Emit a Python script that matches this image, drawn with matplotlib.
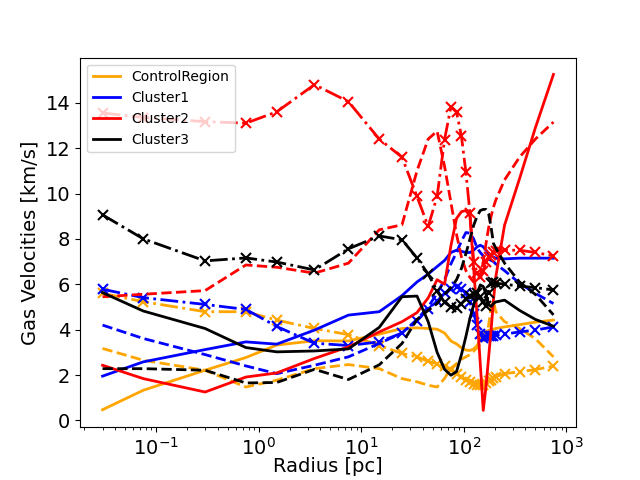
import numpy as np
import matplotlib.pyplot as plt

# radial bins [pc]
radius = [0.03, 0.075, 0.3, 0.75, 1.5, 3.5, 7.5, 15, 25,
          35, 45, 55, 65, 75, 85, 95, 105, 115, 125, 135, 145,
          155, 165, 175, 185, 195, 205, 250, 350, 500, 750]

# ControlRegion
ctrl_solid = [0.47, 1.33, 2.21, 2.77, 3.32, 3.51, 3.5, 3.8, 4.05,
              4.08, 4.05, 4.02, 3.85, 3.5, 3.37, 3.2, 3.1, 3.08, 3.15, 3.3, 3.55,
              3.8, 3.92, 3.97, 4.0, 4.02, 4.05, 4.12, 4.22, 4.33, 4.42]
ctrl_dash = [3.17, 2.65, 2.21, 1.47, 1.77, 2.28, 2.46, 2.28, 1.84,
             1.7, 1.55, 1.47, 1.85, 2.3, 2.5, 2.7, 2.8, 2.9, 3.05, 3.2, 3.35,
             3.5, 3.7, 4.2, 5.0, 5.25, 4.8, 4.35, 4.05, 3.6, 2.8]
ctrl_dd = [5.6, 5.23, 4.79, 4.79, 4.42, 4.05, 3.78, 3.3, 2.95,
           2.8, 2.6, 2.5, 2.38, 2.22, 2.05, 1.92, 1.8, 1.7, 1.62, 1.58, 1.55,
           1.58, 1.65, 1.72, 1.8, 1.87, 1.92, 2.06, 2.14, 2.24, 2.39]

# Cluster1
c1_solid = [1.95, 2.58, 3.12, 3.46, 3.36, 3.98, 4.64, 4.79, 5.5,
            6.1, 6.45, 6.78, 7.05, 7.4, 7.5, 7.45, 7.4, 7.4, 7.5, 7.65, 7.72,
            7.65, 7.5, 7.35, 7.25, 7.2, 7.15, 7.12, 7.15, 7.15, 7.15]
c1_dash = [4.2, 3.61, 2.9, 2.4, 2.06, 2.43, 2.8, 3.39, 3.85,
           4.45, 5.0, 5.6, 6.2, 6.9, 7.4, 7.9, 8.28, 8.25, 8.0, 7.6, 7.4,
           7.25, 7.15, 7.1, 7.05, 7.0, 6.9, 6.6, 6.05, 5.6, 5.15]
c1_dd = [5.78, 5.41, 5.11, 4.89, 4.14, 3.4, 3.3, 3.46, 3.85,
         4.4, 4.9, 5.25, 5.6, 5.8, 5.9, 5.8, 5.6, 5.2, 4.7, 4.2, 3.8,
         3.65, 3.68, 3.72, 3.7, 3.74, 3.76, 3.8, 3.9, 3.98, 4.12]

# Cluster2
c2_solid = [2.43, 1.84, 1.25, 1.91, 2.09, 2.73, 3.24, 3.9, 4.35,
            4.75, 5.4, 6.2, 6.0, 7.7, 8.9, 9.2, 9.25, 9.0, 6.7, 4.6, 2.5,
            0.44, 1.5, 2.8, 4.0, 5.3, 6.3, 8.6, 10.65, 12.9, 15.25]
c2_dash = [5.45, 5.56, 5.72, 6.85, 6.75, 6.49, 6.93, 8.4, 8.62,
           11.0, 12.4, 12.75, 11.2, 9.6, 8.2, 7.2, 6.6, 6.3, 6.1, 6.1, 6.4,
           7.0, 7.8, 8.5, 9.0, 9.4, 9.7, 10.6, 11.6, 12.4, 13.15]
c2_dd = [13.55, 13.35, 13.17, 13.1, 13.6, 14.8, 14.05, 12.4, 11.6,
         9.87, 8.55, 9.87, 12.38, 13.82, 13.6, 12.52, 10.93, 9.14, 7.0, 6.5, 6.3,
         6.6, 7.0, 7.2, 7.3, 7.4, 7.45, 7.5, 7.5, 7.4, 7.25]

# Cluster3
c3_solid = [5.63, 4.82, 4.05, 3.21, 3.02, 3.06, 3.15, 4.1, 5.45,
            5.48, 4.35, 3.0, 2.25, 1.99, 2.15, 2.9, 3.7, 4.5, 5.1, 5.6, 5.97,
            5.9, 5.55, 5.1, 5.02, 5.15, 5.22, 5.3, 4.85, 4.45, 4.15]
c3_dash = [2.28, 2.28, 2.21, 1.65, 1.67, 2.25, 1.8, 2.45, 3.39,
           4.45, 4.85, 5.15, 5.55, 5.85, 6.2, 6.7, 7.35, 8.0, 8.6, 9.0, 9.25,
           9.3, 9.3, 9.1, 8.5, 7.8, 7.6, 6.93, 6.1, 5.55, 4.65]
c3_dd = [9.06, 8.0, 7.03, 7.16, 6.98, 6.63, 7.56, 8.13, 7.96,
         7.16, 6.45, 5.7, 5.2, 5.0, 4.95, 5.15, 5.35, 5.5, 5.55, 5.6, 5.45,
         5.2, 5.05, 5.6, 6.05, 6.1, 6.05, 6.0, 5.92, 5.85, 5.75]

regions = ["ControlRegion", "Cluster1", "Cluster2", "Cluster3"]
colors = ["orange", "blue", "red", "black"]
profiles = [
    (ctrl_solid, ctrl_dash, ctrl_dd),
    (c1_solid, c1_dash, c1_dd),
    (c2_solid, c2_dash, c2_dd),
    (c3_solid, c3_dash, c3_dd),
]

fig, ax = plt.subplots(figsize=(6.4, 4.8), dpi=100)

for name, col, (solid, dash, dd) in zip(regions, colors, profiles):
    ax.plot(radius, solid, color=col, lw=2, label=name)
    ax.plot(radius, dash, color=col, lw=2, ls="--")
    ax.plot(radius, dd, color=col, lw=2, ls="-.", marker="x", ms=7, mew=1.5)

ax.set_xscale("log")
ax.set_xlabel("Radius [pc]", fontsize=14, labelpad=-1)
ax.set_ylabel("Gas Velocities [km/s]", fontsize=14)
ax.tick_params(labelsize=14)
ax.legend(loc="upper left")

fig.savefig("out.png")
